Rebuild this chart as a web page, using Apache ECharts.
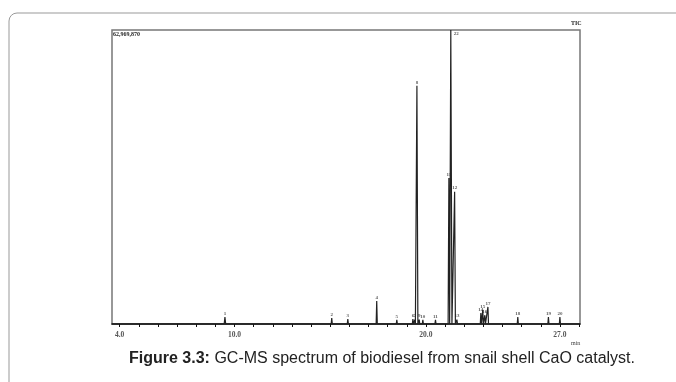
<!DOCTYPE html>
<html>
<head>
<meta charset="utf-8">
<script src="https://cdn.jsdelivr.net/npm/echarts@6/dist/echarts.min.js"></script>
<style>
  html, body { margin: 0; padding: 0; background: #fff; }
  #chart { width: 676px; height: 382px; }
</style>
</head>
<body>
<div id="chart"></div>
<script>
// retention times (min), relative abundance (% of max) and peak numbers
const peakTimes = [9.5, 15.08, 15.92, 17.43, 18.48, 19.32, 19.42, 19.53, 19.65, 19.84, 20.5, 21.2, 21.3, 21.5, 21.62, 22.87, 22.97, 23.08, 23.24, 24.8, 26.4, 27.0];
const peakHeights = [2.4, 2.0, 1.7, 7.8, 1.4, 1.7, 1.5, 81, 1.5, 1.4, 1.4, 49.7, 100, 45, 1.5, 3.7, 4.8, 3.0, 5.8, 2.4, 2.4, 2.4];
const peakLabels = ['1', '2', '3', '4', '5', '6', '7', '8', '9', '10', '11', '11', '22', '12', '13', '14', '15', '16', '17', '18', '19', '20'];
const peakHalfWidths = [0.04, 0.03, 0.03, 0.03, 0.03, 0.03, 0.03, 0.05, 0.03, 0.03, 0.03, 0.04, 0.06, 0.04, 0.03, 0.03, 0.03, 0.03, 0.03, 0.03, 0.03, 0.03];
const tickValues = [4, 5, 6, 7, 8, 9, 10, 11, 12, 13, 14, 15, 16, 17, 18, 19, 20, 21, 22, 23, 24, 25, 26, 27, 28];
const labelValues = [4, 10, 20, 27];
const timeRange = [3.6, 28.05];

const chart = echarts.init(document.getElementById('chart'));

const lineData = [[timeRange[0], 0]];
peakTimes.forEach((t, i) => {
  const w = peakHalfWidths[i];
  lineData.push([t - w, 0], [t, peakHeights[i]], [t + w, 0]);
});
lineData.push([timeRange[1], 0]);

// apex points carry the peak numbers
const apexData = peakTimes.map((t, i) => ({
  value: [t, peakHeights[i]],
  label: {
    formatter: peakLabels[i],
    position: peakHeights[i] >= 99 ? [3, 1] : 'top'
  }
}));

const option = {
  animation: false,
  grid: {
    left: 112, right: 96, top: 30, bottom: 58,
    show: true, borderColor: '#777', borderWidth: 1.5
  },
  xAxis: {
    type: 'value',
    min: timeRange[0],
    max: timeRange[1],
    splitLine: { show: false },
    axisLine: { lineStyle: { color: '#111', width: 1.5 } },
    axisTick: { customValues: tickValues, length: 3, lineStyle: { color: '#111' } },
    axisLabel: {
      customValues: labelValues,
      formatter: v => v.toFixed(1),
      fontFamily: 'Liberation Serif',
      fontSize: 7.5,
      fontWeight: 'bold',
      color: '#555',
      margin: 7
    }
  },
  yAxis: {
    type: 'value',
    min: 0,
    max: 100,
    splitLine: { show: false },
    axisLine: { show: false },
    axisTick: { show: false },
    axisLabel: { show: false }
  },
  series: [
    {
      type: 'line',
      data: lineData,
      showSymbol: false,
      symbol: 'none',
      lineStyle: { color: '#222', width: 1.2 }
    },
    {
      type: 'scatter',
      data: apexData,
      symbolSize: 0,
      silent: true,
      label: {
        show: true,
        distance: 1,
        fontFamily: 'Liberation Serif',
        fontSize: 5,
        fontWeight: 'bold',
        color: '#333'
      }
    }
  ],
  graphic: [
    {
      type: 'rect',
      shape: { x: 9, y: 13, width: 720, height: 420, r: 8 },
      style: { fill: 'none', stroke: '#999', lineWidth: 1 }
    },
    {
      type: 'text', left: 113, top: 31,
      style: { text: '62,969,870', font: 'bold 6px "Liberation Serif"', fill: '#222' }
    },
    {
      type: 'text', left: 571, top: 20,
      style: { text: 'TIC', font: 'bold 6px "Liberation Serif"', fill: '#222' }
    },
    {
      type: 'text', left: 571, top: 340,
      style: { text: 'min', font: '6px "Liberation Serif"', fill: '#444' }
    },
    {
      type: 'text', x: 382, y: 359,
      style: {
        text: '{b|Figure 3.3:} GC-MS spectrum of biodiesel from snail shell CaO catalyst.',
        align: 'center', verticalAlign: 'middle',
        font: '16px "Liberation Sans"', fill: '#222',
        rich: { b: { font: 'bold 16px "Liberation Sans"', fill: '#222' } }
      }
    }
  ]
};

chart.setOption(option);
</script>
</body>
</html>
